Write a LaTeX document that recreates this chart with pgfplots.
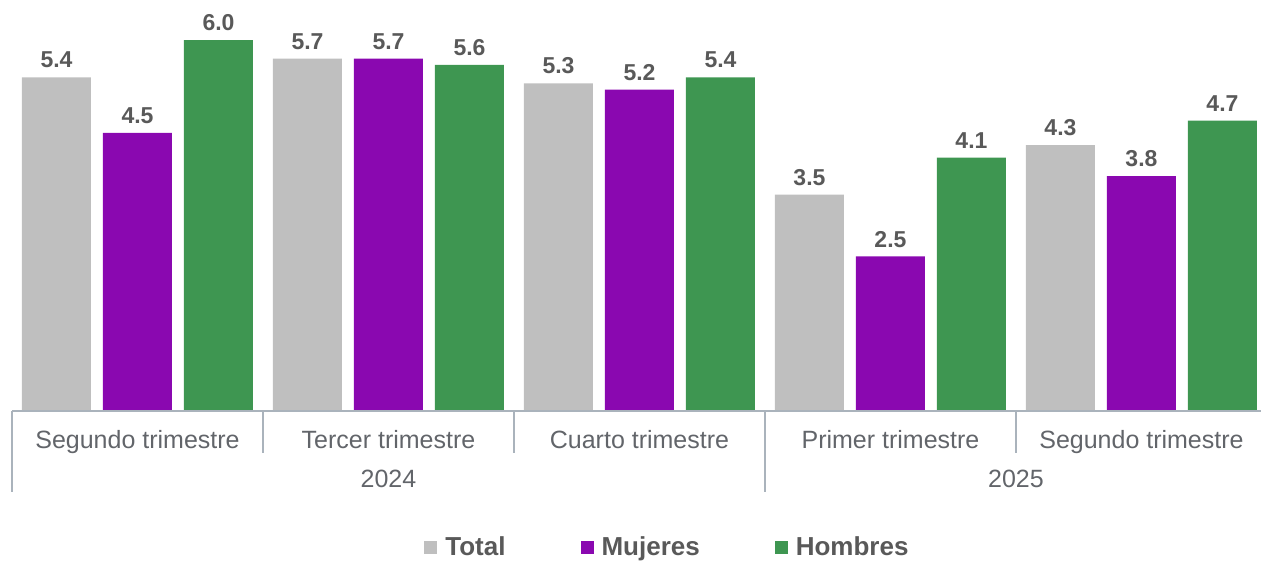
\documentclass[border=0pt]{standalone}
\usepackage{fontspec}
\setmainfont{Liberation Sans}
\usepackage{pgfplots}
\pgfplotsset{compat=1.18}
\definecolor{cTotal}{HTML}{BFBFBF}
\definecolor{cMuj}{HTML}{8A08B0}
\definecolor{cHom}{HTML}{3E9651}
\definecolor{cTxt}{HTML}{595959}
\definecolor{cTick}{HTML}{62656A}
\definecolor{cAx}{HTML}{AAB3BC}
\begin{document}
\begin{tikzpicture}
\useasboundingbox (0,0) rectangle (1261pt,560pt);
\begin{axis}[
  at={(12pt,149pt)}, anchor=south west,
  scale only axis, width=1255pt, height=411pt,
  xmin=-0.5, xmax=4.5, ymin=0, ymax=6.65,
  clip=false,
  ybar=12pt, bar width=69pt,
  axis line style={draw=none},
  ytick=\empty,
  major tick length=0pt,
  xtick={0,1,2,3,4},
  xticklabels={Segundo trimestre,Tercer trimestre,Cuarto trimestre,Primer trimestre,Segundo trimestre},
  xticklabel style={anchor=base, yshift=-37pt, font=\fontsize{25}{25}\selectfont, text=cTick, inner sep=0pt},
  nodes near coords={\pgfmathprintnumber[fixed,fixed zerofill,precision=1,assume math mode=true]{\pgfplotspointmeta}},
  every node near coord/.append style={font=\fontsize{23}{23}\selectfont\bfseries, text=cTxt, anchor=south, inner sep=0pt, yshift=9pt},
  legend style={draw=none, fill=none, at={(0.5223,-0.331)}, anchor=center,
    legend columns=3, font=\fontsize{26}{26}\selectfont\bfseries, text=cTxt,
    /tikz/every odd column/.append style={column sep=6pt},
    /tikz/every even column/.append style={column sep=73pt}},
  legend cell align=left,
]
\addplot[fill=cTotal, draw=none,
  legend image code/.code={\fill[cTotal] (0pt,-6.5pt) rectangle (13pt,6.5pt);}]
  coordinates {(0,5.4) (1,5.7) (2,5.3) (3,3.5) (4,4.3)};
\addlegendentry{Total}
\addplot[fill=cMuj, draw=none,
  legend image code/.code={\fill[cMuj] (0pt,-6.5pt) rectangle (13pt,6.5pt);}]
  coordinates {(0,4.5) (1,5.7) (2,5.2) (3,2.5) (4,3.8)};
\addlegendentry{Mujeres}
\addplot[fill=cHom, draw=none,
  legend image code/.code={\fill[cHom] (0pt,-6.5pt) rectangle (13pt,6.5pt);}]
  coordinates {(0,6.0) (1,5.6) (2,5.4) (3,4.1) (4,4.7)};
\addlegendentry{Hombres}
\draw[cAx, line width=1.3pt] (axis cs:-0.5,0) -- (axis cs:4.5,0);
\draw[cAx, line width=1.3pt] (axis cs:-0.5,0) -- ++(0pt,-81pt);
\draw[cAx, line width=1.3pt] (axis cs:2.5,0) -- ++(0pt,-81pt);
\draw[cAx, line width=1.3pt] (axis cs:0.5,0) -- ++(0pt,-42pt);
\draw[cAx, line width=1.3pt] (axis cs:1.5,0) -- ++(0pt,-42pt);
\draw[cAx, line width=1.3pt] (axis cs:3.5,0) -- ++(0pt,-42pt);
\node[anchor=base, yshift=-76pt, font=\fontsize{25}{25}\selectfont, text=cTick] at (axis cs:1,0) {2024};
\node[anchor=base, yshift=-76pt, font=\fontsize{25}{25}\selectfont, text=cTick] at (axis cs:3.5,0) {2025};
\end{axis}
\end{tikzpicture}
\end{document}
